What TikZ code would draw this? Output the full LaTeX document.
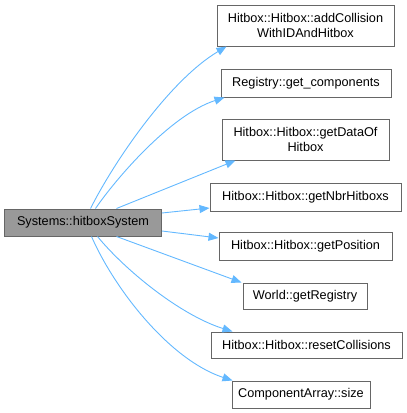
\documentclass[tikz,border=0pt]{standalone}
\usepackage{fontspec}
\setmainfont{Liberation Sans}
\usetikzlibrary{arrows.meta,calc}
\definecolor{edgeblue}{HTML}{63B8FF}
\definecolor{boxborder}{HTML}{666666}
\definecolor{mainfill}{HTML}{999999}
\begin{document}
\begin{tikzpicture}[x=1pt,y=-1pt,
  box/.style={draw=boxborder,fill=white,line width=1pt,inner sep=0pt,align=center,
    font=\fontsize{12.7pt}{14.5pt}\selectfont},
  mainbox/.style={box,fill=mainfill},
  edge/.style={draw=edgeblue,line width=0.9pt,-{Triangle[length=10pt,width=8pt]}}]
\useasboundingbox (0,0) rectangle (407,413);
\node[mainbox,minimum width=157pt,minimum height=27pt] (m) at (83,222.5) {Systems::hitboxSystem};
\node[box,minimum width=177pt,minimum height=41pt] (b1) at (305.5,25.5) {Hitbox::Hitbox::addCollision\\WithIDAndHitbox};
\node[box,minimum width=170pt,minimum height=28pt] (b2) at (306,83) {Registry::get\_components};
\node[box,minimum width=167pt,minimum height=41pt] (b3) at (305.5,139.5) {Hitbox::Hitbox::getDataOf\\Hitbox};
\node[box,minimum width=191pt,minimum height=28pt] (b4) at (305.5,197) {Hitbox::Hitbox::getNbrHitboxs};
\node[box,minimum width=173pt,minimum height=28pt] (b5) at (305.5,246) {Hitbox::Hitbox::getPosition};
\node[box,minimum width=124pt,minimum height=26pt] (b6) at (305,296) {World::getRegistry};
\node[box,minimum width=191pt,minimum height=26pt] (b7) at (306.5,345) {Hitbox::Hitbox::resetCollisions};
\node[box,minimum width=138pt,minimum height=27pt] (b8) at (301,394.5) {ComponentArray::size};
% edges
\draw[edge] ([xshift=86.5pt]m.north west) .. controls (115,160) and (170,80) .. ([xshift=10pt]b1.south west);
\draw[edge] ([xshift=91.5pt]m.north west) .. controls (115,180) and (170,115) .. ([xshift=4pt]b2.south west);
\draw[edge] ([xshift=112.5pt]m.north west) -- ([xshift=14pt]b3.south west);
\draw[edge] ([yshift=9.5pt]m.east) -- ([yshift=-11pt]b4.west);
\draw[edge] ([yshift=-8.5pt]m.east) -- ([yshift=8pt]b5.west);
\draw[edge] ([xshift=112.5pt]m.south west) -- ([xshift=-1pt]b6.north west);
\draw[edge] ([xshift=93.5pt]m.south west) .. controls (125,270) and (180,315) .. ([xshift=22pt]b7.north west);
\draw[edge] ([xshift=87.5pt]m.south west) .. controls (115,290) and (170,360) .. ([xshift=1pt]b8.north west);
\end{tikzpicture}
\end{document}
